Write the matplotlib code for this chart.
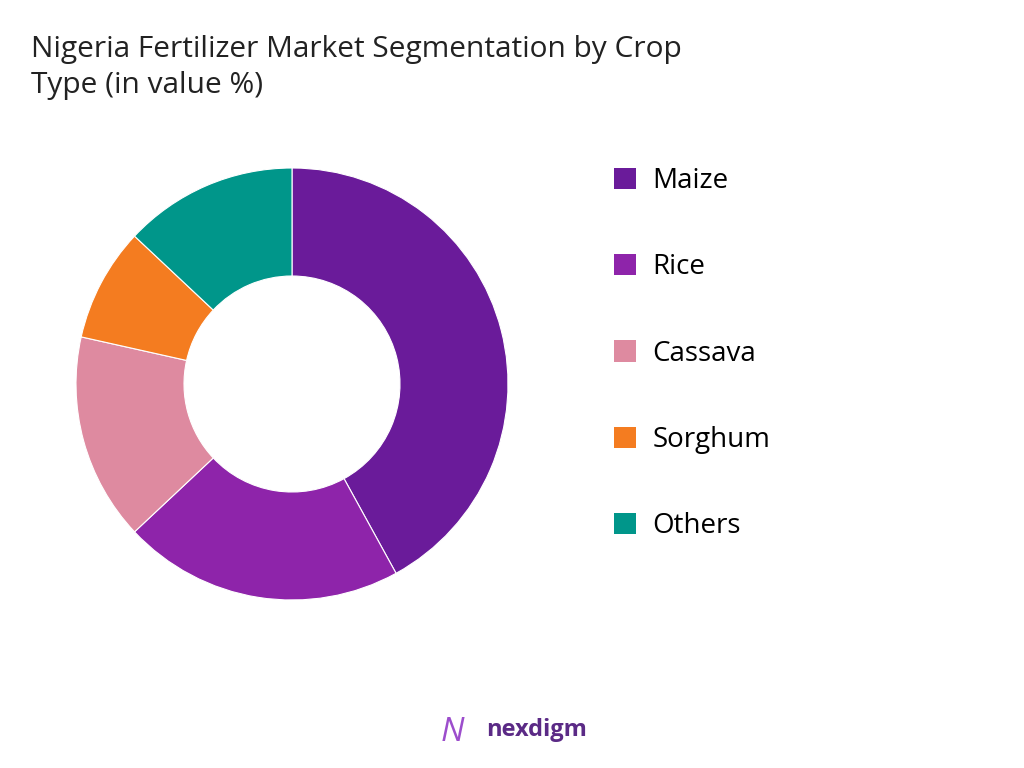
import matplotlib.pyplot as plt
from matplotlib.patches import Patch

crops = ["Maize", "Rice", "Cassava", "Sorghum", "Others"]
shares = [42, 21, 15.5, 8.5, 13]
colors = ["#6A1B9A", "#8E24AA", "#DE8AA0", "#F47C20", "#00968A"]

plt.rcParams['font.family'] = ['Open Sans', 'DejaVu Sans']
fig = plt.figure(figsize=(10.24, 7.68), dpi=100)

# donut
ax = fig.add_axes([22 / 1024, 114 / 768, 540 / 1024, 540 / 768])
ax.pie(shares, colors=colors, startangle=90, counterclock=False,
       wedgeprops=dict(width=0.5, edgecolor='white', linewidth=0.8))
ax.set_aspect('equal')

fig.text(0.03, 0.955, "Nigeria Fertilizer Market Segmentation by Crop\nType (in value %)",
         fontsize=21.5, color='#222222', va='top', linespacing=1.35)

handles = [Patch(facecolor=c, label=l) for c, l in zip(colors, crops)]
fig.legend(handles=handles, loc='upper left', bbox_to_anchor=(0.575, 0.815),
           frameon=False, fontsize=20, handlelength=0.8, handleheight=0.8,
           labelspacing=2.1, handletextpad=0.6)

fig.text(0.475, 0.042, "nexdigm", fontsize=17, color='#5B2A86', fontweight='bold')
fig.text(0.43, 0.035, "N", fontsize=24, color='#9C4DCC', fontstyle='italic')

fig.savefig("out.png", dpi=100, facecolor='white')
